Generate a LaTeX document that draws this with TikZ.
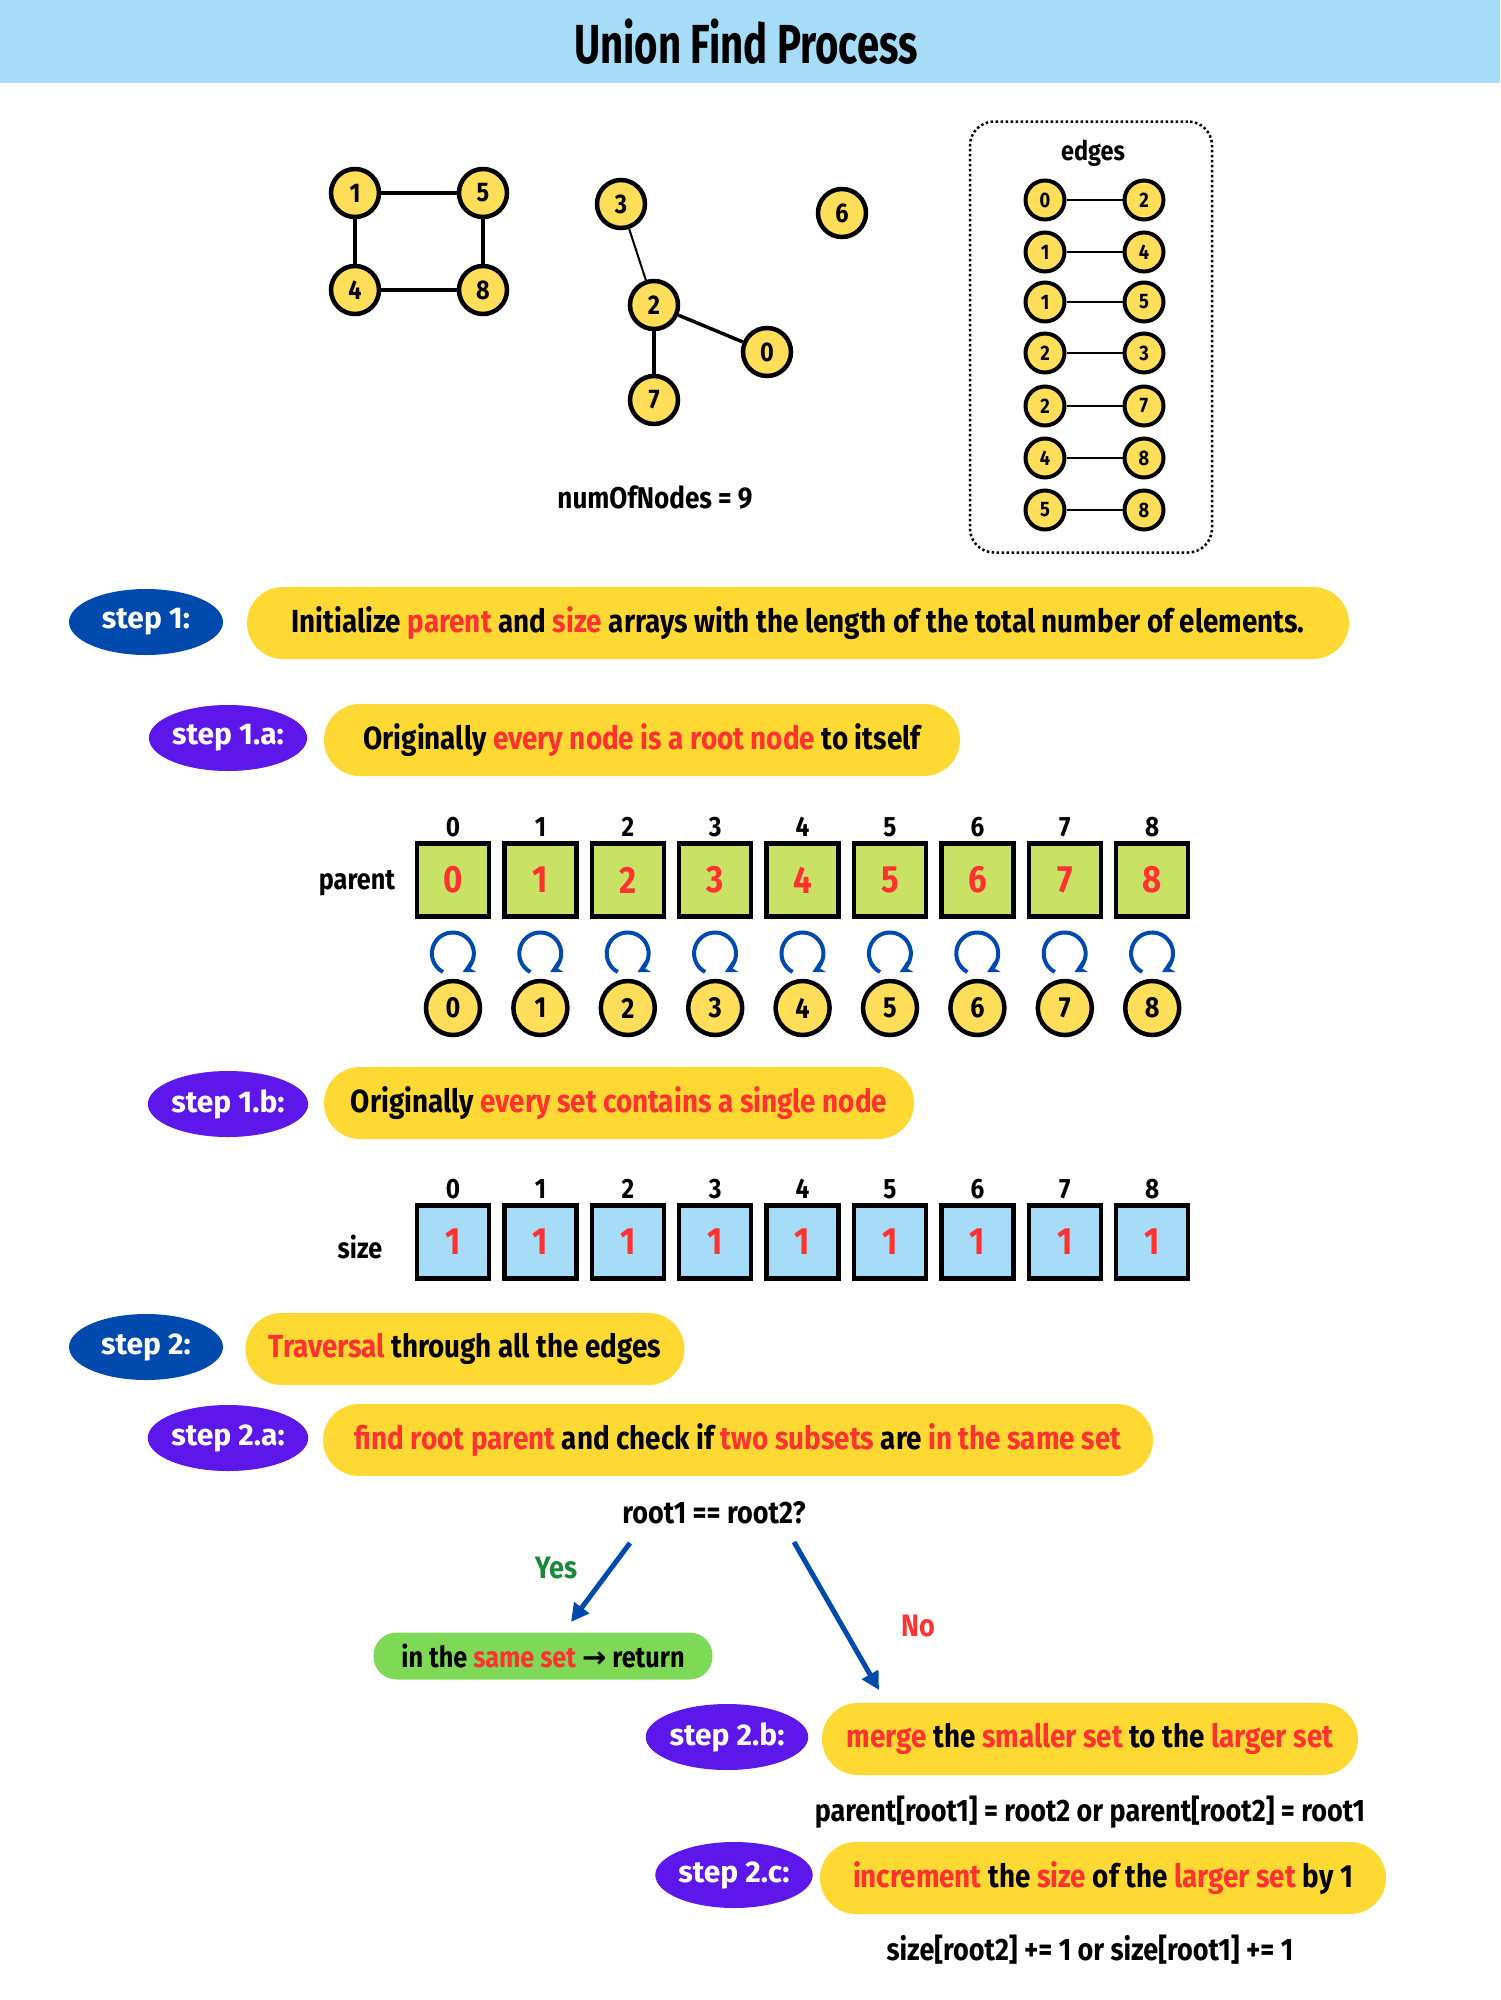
\documentclass[tikz,border=0pt]{standalone}
\usepackage{fontspec}
\setmainfont[FakeStretch=0.87]{Fira Sans}
\newfontfamily\titlefont[FakeStretch=0.73]{Fira Sans}
\newfontfamily\lblfont{Fira Sans}
\newfontfamily\symfont{DejaVu Sans}
\usetikzlibrary{shapes.geometric,arrows.meta,calc}
\definecolor{hdrblue}{HTML}{A6DCF8}
\definecolor{pillyel}{HTML}{FFD933}
\definecolor{nodeyel}{HTML}{FFDE59}
\definecolor{dkblue}{HTML}{004AAD}
\definecolor{purp}{HTML}{5E17EB}
\definecolor{rd}{HTML}{FF3131}
\definecolor{lime}{HTML}{C9E265}
\definecolor{grn}{HTML}{7ED957}
\definecolor{yesgrn}{HTML}{188A3A}
\newcommand{\redtx}[1]{\textcolor{rd}{#1}}
\newcommand{\fsz}[1]{\fontsize{#1}{#1}\selectfont\bfseries}
\begin{document}
\begin{tikzpicture}[x=1pt,y=-1pt,
  gnode/.style={circle,draw=black,line width=4.5pt,fill=nodeyel,minimum size=48pt,inner sep=0pt,font=\fsz{27}},
  enode/.style={circle,draw=black,line width=4pt,fill=nodeyel,minimum size=39pt,inner sep=0pt,font=\fsz{21}},
  lnode/.style={circle,draw=black,line width=4.5pt,fill=nodeyel,minimum size=54pt,inner sep=0pt,font=\fsz{29}},
  gedge/.style={line width=3.5pt},
  thinedge/.style={line width=2pt},
  eedge/.style={line width=2.5pt},
  blob/.style={ellipse,minimum width=154pt,minimum height=66pt,inner sep=0pt,text=white,font=\lblfont\fsz{30}},
  blobA/.style={blob,fill=dkblue},
  blobB/.style={blob,fill=purp},
  pill/.style={rounded corners=36pt,fill=pillyel,minimum height=72pt,inner sep=0pt,font=\fsz{32}},
  cell/.style={draw=black,line width=4.5pt,minimum width=72pt,minimum height=73pt,inner sep=0pt,text=rd,font=\fsz{38}},
  pcell/.style={cell,fill=lime},
  scell/.style={cell,fill=hdrblue},
  idx/.style={font=\fsz{28}},
  plain/.style={font=\fsz{31}},
  loopst/.style={draw=dkblue,line width=4pt,-{Stealth[length=12pt,width=13pt]}},
  flow/.style={draw=dkblue,line width=5pt,-{Triangle[length=18pt,width=18pt]}},
]
\useasboundingbox (0,0) rectangle (1500,2000);
\fill[hdrblue] (0,0) rectangle (1500,83);
\node[font=\titlefont\fsz{55}] (title) at (746,42) {Union Find Process};

% graph
\node[gnode] (g1) at (355,193) {1};
\node[gnode] (g5) at (483,193) {5};
\node[gnode] (g4) at (355,290) {4};
\node[gnode] (g8) at (483,290) {8};
\node[gnode] (g3) at (621,204) {3};
\node[gnode] (g2) at (654,305) {2};
\node[gnode] (g0) at (767,352) {0};
\node[gnode] (g7) at (654,400) {7};
\node[gnode] (g6) at (842,213) {6};
\draw[gedge] (g1) -- (g5);
\draw[gedge] (g1) -- (g4);
\draw[gedge] (g5) -- (g8);
\draw[gedge] (g4) -- (g8);
\draw[thinedge] (g3) -- (g2);
\draw[gedge] (g2) -- (g0);
\draw[gedge] (g2) -- (g7);
\node[font=\fsz{30}] (num) at (655,498) {numOfNodes = 9};

% edges list
\node[draw=black,dash pattern=on 2.5pt off 2.5pt,line width=2.5pt,rounded corners=24pt,minimum width=242pt,minimum height=431pt] (ebox) at (1091,337) {};
\node[font=\fsz{27}] (elbl) at (1093,153) {edges};
\foreach \a/\b/\y [count=\k] in {0/2/200,1/4/252,1/5/302,2/3/353,2/7/406,4/8/458,5/8/510}{
  \node[enode] (ea\k) at (1045,\y) {\a};
  \node[enode] (eb\k) at (1144,\y) {\b};
  \draw[eedge] (ea\k) -- (eb\k);
}

% step 1
\node[blobA] (b1) at (146,622) {step 1:};
\node[pill,minimum width=1102pt] (t1) at (798,623) {Initialize \redtx{parent} and \redtx{size} arrays with the length of the total number of elements.};
\node[blobB] (b1a) at (228,738) {step 1.a:};
\node[pill,minimum width=636pt] (t1a) at (642,740) {Originally \redtx{every node is a root node} to itself};
\node[font=\fsz{29}] (plbl) at (357,883) {parent};

\foreach \i in {0,...,8}{
  \pgfmathsetmacro{\xx}{453+87.4*\i}
  \node[idx] (pi\i) at (\xx,827) {\i};
  \node[pcell] (p\i) at (\xx,880) {\i};
  \node[lnode] (c\i) at (\xx,1008) {\i};
  \draw[loopst] ($(c\i.center)+(-10,-36)$) arc[start angle=118,end angle=422,radius=21];
  \node[idx] (si\i) at (\xx,1189) {\i};
  \node[scell] (s\i) at (\xx,1242) {1};
}

\node[blobB] (b1b) at (228,1104) {step 1.b:};
\node[pill,minimum width=590pt] (t1b) at (619,1103) {Originally \redtx{every set contains a single node}};
\node[font=\fsz{29}] (slbl) at (360,1247) {size};

% step 2
\node[blobA] (b2) at (146,1347) {step 2:};
\node[pill,minimum width=439pt] (t2) at (465,1349) {\redtx{Traversal} through all the edges};
\node[blobB] (b2a) at (228,1438) {step 2.a:};
\node[pill,minimum width=830pt] (t2a) at (738,1440) {\redtx{find root parent} and check if \redtx{two subsets} are \redtx{in the same set}};
\node[plain] (q) at (714,1513) {root1 == root2?};
\coordinate (yesS) at (630,1543);
\coordinate (yesE) at (571,1622);
\draw[flow] (yesS) -- (yesE);
\node[plain,text=yesgrn] (yes) at (556,1568) {Yes};
\coordinate (noS) at (794,1542);
\coordinate (noE) at (879,1690);
\draw[flow] (noS) -- (noE);
\node[plain,text=rd] (no) at (918,1626) {No};
\node[fill=grn,rounded corners=23pt,minimum width=339pt,minimum height=47pt,inner sep=0pt,font=\fsz{29}] (same) at (543,1656) {in the \redtx{same set} {\symfont →} return};

\node[blobB] (b2b) at (727,1737) {step 2.b:};
\node[pill,minimum width=536pt] (t2b) at (1090,1739) {\redtx{merge} the \redtx{smaller set} to the \redtx{larger set}};
\node[plain] (f1) at (1090,1812) {parent[root1] = root2 or parent[root2] = root1};
\node[blobB] (b2c) at (734,1875) {step 2.c:};
\node[pill,minimum width=566pt] (t2c) at (1103,1878) {\redtx{increment} the \redtx{size} of the \redtx{larger set} by 1};
\node[plain] (f2) at (1090,1950) {size[root2] += 1 or size[root1] += 1};
\end{tikzpicture}
\end{document}
